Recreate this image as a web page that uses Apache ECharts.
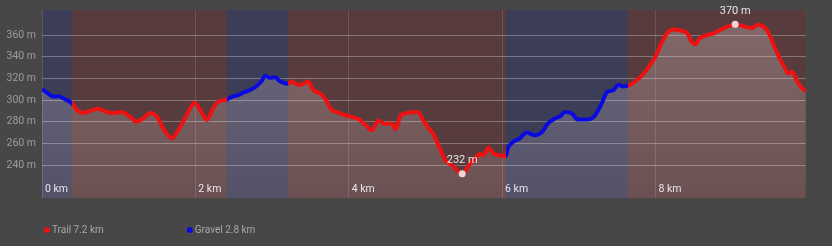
<!DOCTYPE html>
<html><head><meta charset="utf-8">
<script src="https://cdn.jsdelivr.net/npm/echarts@6/dist/echarts.min.js"></script>
<style>html,body{margin:0;padding:0;background:#474747;}#c{width:832px;height:246px;}</style>
</head><body><div id="c"></div>
<script>
// distance along route (km) and elevation (m)
const distKm = [0.00,0.08,0.15,0.21,0.28,0.39,0.45,0.54,0.63,0.73,0.84,0.93,1.04,1.15,1.23,1.32,1.41,1.50,1.58,1.69,1.80,1.88,1.99,2.07,2.15,2.23,2.30,2.41,2.50,2.56,2.63,2.71,2.80,2.87,2.91,2.97,3.04,3.10,3.19,3.26,3.34,3.41,3.47,3.54,3.63,3.69,3.78,3.84,3.95,4.06,4.15,4.24,4.30,4.39,4.47,4.56,4.61,4.68,4.76,4.90,4.97,5.04,5.10,5.17,5.26,5.34,5.48,5.58,5.65,5.71,5.76,5.82,5.89,5.95,6.04,6.08,6.15,6.23,6.32,6.43,6.52,6.60,6.69,6.76,6.82,6.91,6.99,7.08,7.17,7.23,7.30,7.37,7.45,7.52,7.58,7.67,7.76,7.85,7.93,7.99,8.06,8.15,8.23,8.34,8.41,8.47,8.52,8.58,8.67,8.76,8.84,8.95,9.04,9.15,9.26,9.34,9.43,9.50,9.56,9.63,9.69,9.73,9.78,9.84,9.91,9.96];
const elevM = [310,306,303,303.5,301.5,297,291,288,290,292,289,288,289,284.5,280,283,288,284.5,274,264.5,275,285,297.5,290,281.5,292,298.5,300.5,303.5,304.5,307,309,313,318,322.5,320.5,321,317.5,315,317,314,315,317,309,306,301.5,290.5,289,286,284,281.5,275.5,272,281,278,278,273,286,288,289,281.5,274,269,258,244.5,240,232,241,246,250.5,249,256,250.5,249,248,256.5,261.5,264.5,270,267.5,270.5,278.5,283,285,289,287.5,282,282,283,287.5,297,307.5,309,314,312.5,314,318.5,324.5,332.5,338.5,349.5,361.5,365,364,362,354,351.5,357,360,361.5,364.5,368,370,368,366.5,369.5,366.5,358.5,348,337,329.5,324.5,326,318.5,311,308];

// surface sections
const bandStart = [0, 0.39, 2.41, 3.21, 6.05, 7.64];
const bandEnd   = [0.39, 2.41, 3.21, 6.05, 7.64, 9.96];
const bandType  = ['gravel','trail','gravel','trail','gravel','trail'];

const legendNames = ['Trail 7.2 km', 'Gravel 2.8 km'];
const yTicks = [240, 260, 280, 300, 320, 340, 360];
const xTicks = [0, 2, 4, 6, 8];

const lineColor = {trail: '#ee1111', gravel: '#0a0ae0'};
const bandColor = {trail: '#583c3d', gravel: '#3c3d57'};

const pts = distKm.map((d, i) => [d, elevM[i]]);
const font = 'Roboto';

const pieces = bandStart.map((s, i) => {
  const p = {gte: s, color: lineColor[bandType[i]]};
  if (i === bandStart.length - 1) p.lte = 100; else p.lt = bandEnd[i];
  return p;
});

const option = {
  backgroundColor: '#474747',
  animation: false,
  grid: {left: 42, right: 26.3, top: 10, bottom: 47.7},
  xAxis: {
    type: 'value', min: 0, max: 9.96, z: 2,
    axisLine: {show: false}, axisTick: {show: false, customValues: xTicks},
    axisLabel: {customValues: xTicks, inside: true, margin: 3, align: 'left', padding: [0,0,0,3],
      color: '#e4e4f0', fontFamily: font, fontSize: 10.5, formatter: v => v + ' km'},
    splitLine: {show: true, lineStyle: {color: 'rgba(255,255,255,0.13)', width: 1}}
  },
  yAxis: {
    type: 'value', min: 209.3, max: 383.1, z: 2,
    axisLine: {show: false}, axisTick: {show: false, customValues: yTicks},
    axisLabel: {customValues: yTicks, color: '#9c9c9c', fontFamily: font, fontSize: 10.5, margin: 6,
      formatter: v => v + ' m'},
    splitLine: {show: true, lineStyle: {color: 'rgba(255,255,255,0.3)', width: 1}}
  },
  visualMap: {
    show: false, type: 'piecewise', dimension: 0, seriesIndex: 2, pieces: pieces
  },
  legend: {
    left: 39, top: 220, icon: 'circle', itemWidth: 6, itemHeight: 6, itemGap: 83,
    textStyle: {color: '#a8a8a8', fontFamily: font, fontSize: 10, padding: [0,0,0,-3]},
    data: legendNames
  },
  series: [
    {
      type: 'line', z: 1, data: [], silent: true,
      markArea: {
        silent: true,
        data: bandStart.map((s, i) => [
          {xAxis: s, itemStyle: {color: bandColor[bandType[i]], opacity: 1}},
          {xAxis: bandEnd[i]}
        ])
      }
    },
    {
      type: 'line', z: 3, data: pts, smooth: 0.3, symbol: 'none',
      lineStyle: {width: 0},
      areaStyle: {
        color: {type: 'linear', x: 0, y: 0, x2: 0, y2: 1, colorStops: [
          {offset: 0, color: 'rgba(255,235,235,0.36)'},
          {offset: 1, color: 'rgba(255,235,235,0.17)'}
        ]}
      }
    },
    {
      type: 'line', z: 4, data: pts, smooth: 0.3, symbol: 'none',
      lineStyle: {width: 4},
      markPoint: {
        symbol: 'circle', symbolSize: 7,
        itemStyle: {color: '#f2d6d6'},
        label: {show: true, position: 'top', distance: 4, color: '#e6e6e6', fontFamily: font, fontSize: 11,
          formatter: p => p.value + ' m'},
        data: [{type: 'max'}, {type: 'min'}]
      }
    },
    {name: legendNames[0], type: 'line', data: [], color: lineColor.trail},
    {name: legendNames[1], type: 'line', data: [], color: lineColor.gravel}
  ]
};

const chart = echarts.init(document.getElementById('c'), null, {renderer: 'canvas'});
chart.setOption(option);
</script></body></html>
